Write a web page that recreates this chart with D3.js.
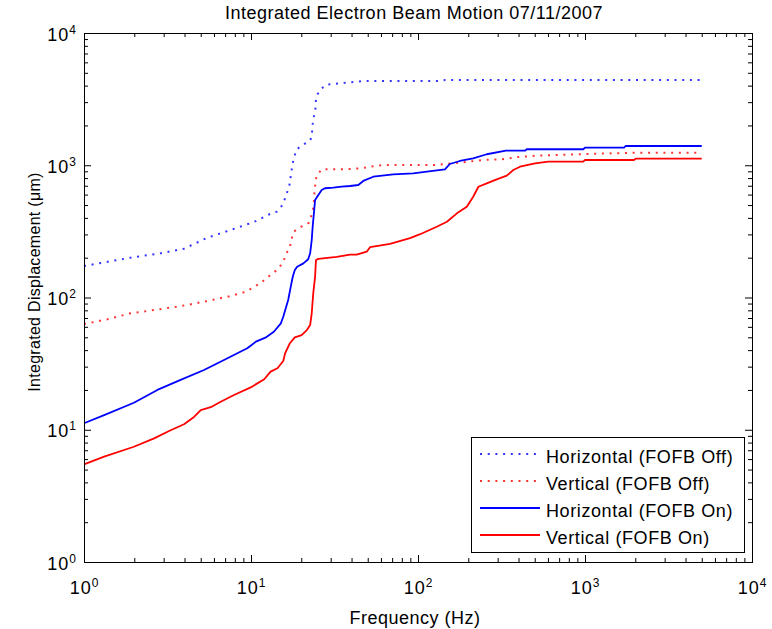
<!DOCTYPE html>
<html>
<head>
<meta charset="utf-8">
<script src="https://cdn.jsdelivr.net/npm/d3@7"></script>
<style>
  html, body { margin: 0; padding: 0; background: #fff; }
  svg { display: block; font-family: "Liberation Sans", Arial, Helvetica, sans-serif; }
</style>
</head>
<body>
<svg id="chart" width="772" height="629"></svg>
<script>
// ---- data ----
const title = "Integrated Electron Beam Motion 07/11/2007";
const xLabel = "Frequency (Hz)";
const yLabel = "Integrated Displacement (\u03bcm)";
const decadeExponents = [0, 1, 2, 3, 4];

const seriesNames = ["Horizontal (FOFB Off)", "Vertical (FOFB Off)", "Horizontal (FOFB On)", "Vertical (FOFB On)"];

const hOffFreq = [1, 1.9, 2.88, 3.97, 5.47, 7.56, 10.4, 12.9, 14.3, 15.6, 16.2, 16.9, 17.4, 17.7, 18.1, 18.8, 20.4, 22.7, 23.2, 23.4, 23.8, 24.3, 24.4, 25.1, 26.2, 28.1, 34.8, 47.5, 139, 145, 5000];
const hOffVal  = [173, 200, 216, 234, 283, 324, 372, 426, 446, 509, 596, 677, 869, 1005, 1149, 1320, 1423, 1545, 1776, 2040, 2330, 2650, 3025, 3460, 3753, 4063, 4170, 4340, 4340, 4413, 4413];

const vOffFreq = [1, 1.38, 1.9, 2.63, 3.59, 4.45, 5.47, 6.09, 7.56, 9.33, 10.4, 11.5, 12.8, 14.3, 15.6, 16.2, 17.1, 17.5, 18.0, 20.0, 22.3, 23.1, 23.7, 23.9, 24.0, 24.3, 24.7, 26.5, 36.5, 45, 55.3, 62, 129.5, 145, 178, 246, 340, 376, 514, 883, 2040, 5000];
const vOffVal  = [63, 68.4, 76, 80.4, 85.2, 89.3, 94, 96.9, 102.6, 110.6, 120, 129.5, 144.7, 161.5, 184.6, 212, 242, 277, 314.5, 343, 368, 426, 486, 562, 639, 730, 834, 931, 931, 948, 987, 1005, 1005, 1023, 1046, 1096, 1115, 1148, 1181, 1210, 1245, 1245];

const hOnFreq = [1, 1.32, 1.99, 2.75, 3.79, 5.23, 6.89, 9.5, 10.7, 12.2, 13.7, 15.1, 15.6, 16.7, 17.3, 17.8, 18.3, 18.9, 20.6, 22.0, 22.6, 23.1, 23.4, 23.8, 24.2, 25.3, 26.5, 27.7, 31.1, 34.9, 39.2, 43.9, 47.0, 54.0, 71.1, 93.7, 113, 145, 155, 178, 214, 258, 336, 437, 448, 977, 1000, 1713, 1750, 5000];
const hOnVal  = [11.2, 12.9, 16.0, 20.0, 23.8, 28.3, 33.7, 41.3, 46.4, 49.7, 55.1, 63.8, 71.6, 95.7, 121, 144, 161.5, 171, 181, 194.5, 216, 272, 343, 433, 546, 596, 650, 670, 677, 688, 697, 709, 761, 819, 854, 869, 894, 932, 1022, 1077, 1129, 1211, 1289, 1289, 1321, 1321, 1358, 1358, 1398, 1398];

const vOnFreq = [1, 1.32, 1.99, 2.63, 3.23, 3.97, 4.56, 5.0, 5.74, 6.59, 7.91, 9.96, 12.0, 13.1, 14.4, 15.6, 16.0, 17.1, 18.3, 20.1, 21.6, 22.6, 23.1, 23.6, 24.2, 24.5, 25.3, 32.6, 39.2, 42.9, 49.3, 51.6, 68.0, 89.6, 103, 129.5, 149, 171, 196, 214, 230, 258, 296, 340, 372, 408, 502, 603, 977, 1000, 1963, 2010, 5000];
const vOnVal  = [5.48, 6.26, 7.44, 8.61, 9.78, 11.0, 12.5, 14.1, 14.8, 16.3, 18.3, 20.9, 24.1, 27.5, 29.2, 33.1, 37.8, 45.1, 50.0, 52.0, 56.7, 61.9, 76.0, 108, 144, 192, 196, 203, 211, 211, 222, 240, 254, 281, 301, 343, 374, 433, 486, 578, 688, 730, 783, 834, 921, 975, 1035, 1064, 1064, 1096, 1096, 1121, 1121];

// ---- layout ----
const W = 772, H = 629;
const L = 84, R = 752, T = 33, B = 562;

const svg = d3.select("#chart");
const x = d3.scaleLog().domain([1, 1e4]).range([L, R]);
const y = d3.scaleLog().domain([1, 1e4]).range([B, T]);

const majors = decadeExponents.map(e => Math.pow(10, e));
const minors = [];
for (let e = 0; e < 4; e++) for (let m = 2; m <= 9; m++) minors.push(m * Math.pow(10, e));

// background
svg.append("rect").attr("width", W).attr("height", H).attr("fill", "#fff");
svg.append("rect").attr("x", L).attr("y", T).attr("width", R - L).attr("height", B - T).attr("fill", "#fff");

// ticks (inward on all four sides)
function addAxis(gen, tr, vals, size) {
  const g = svg.append("g").attr("transform", tr)
    .call(gen.tickValues(vals).tickSize(-size).tickSizeOuter(0).tickFormat(() => ""));
  g.select(".domain").remove();
  g.selectAll(".tick line").attr("stroke", "#000").attr("stroke-width", 1);
  return g;
}
addAxis(d3.axisBottom(x), `translate(0,${B})`, minors, 4);
addAxis(d3.axisTop(x), `translate(0,${T})`, minors, 4);
addAxis(d3.axisLeft(y), `translate(${L},0)`, minors, 4);
addAxis(d3.axisRight(y), `translate(${R},0)`, minors, 4);
const gxb = addAxis(d3.axisBottom(x), `translate(0,${B})`, majors, 7);
addAxis(d3.axisTop(x), `translate(0,${T})`, majors, 7);
const gyl = addAxis(d3.axisLeft(y), `translate(${L},0)`, majors, 7);
addAxis(d3.axisRight(y), `translate(${R},0)`, majors, 7);

// tick labels 10^n
gxb.selectAll(".tick").each(function(d) {
  const t = d3.select(this).select("text")
    .attr("y", 32).attr("dy", null).attr("text-anchor", "middle")
    .attr("fill", "#000").attr("font-size", 18).style("letter-spacing", "1px");
  t.text(null);
  t.append("tspan").text("10");
  t.append("tspan").attr("dy", -7).attr("font-size", 12).text(Math.round(Math.log10(d)));
});
gyl.selectAll(".tick").each(function(d) {
  const t = d3.select(this).select("text")
    .attr("x", -7).attr("dy", null).attr("y", 7).attr("text-anchor", "end")
    .attr("fill", "#000").attr("font-size", 18).style("letter-spacing", "1px");
  t.text(null);
  t.append("tspan").text("10");
  t.append("tspan").attr("dy", -7).attr("font-size", 12).text(Math.round(Math.log10(d)));
});

// series lines
const series = [
  { f: hOffFreq, v: hOffVal, color: "#0000ff", dotted: true },
  { f: vOffFreq, v: vOffVal, color: "#ff0000", dotted: true },
  { f: hOnFreq,  v: hOnVal,  color: "#0000ff", dotted: false },
  { f: vOnFreq,  v: vOnVal,  color: "#ff0000", dotted: false }
];
const line = d3.line().x(d => x(d[0])).y(d => y(d[1]));
series.forEach(s => {
  const pts = s.f.map((f, i) => [f, s.v[i]]);
  const p = svg.append("path").datum(pts).attr("d", line)
    .attr("fill", "none").attr("stroke", s.color);
  if (s.dotted) p.attr("stroke-width", 2).attr("stroke-dasharray", "2,5.7").attr("opacity", 0.8);
  else p.attr("stroke-width", 1.8).attr("stroke-linejoin", "round");
});

// box
svg.append("rect").attr("x", L + 0.5).attr("y", T + 0.5).attr("width", R - L).attr("height", B - T)
  .attr("fill", "none").attr("stroke", "#000").attr("stroke-width", 1);

// title & labels
svg.append("text").attr("x", 414).attr("y", 19).attr("text-anchor", "middle")
  .attr("font-size", 18).style("letter-spacing", "0.5px").text(title);
svg.append("text").attr("x", 415).attr("y", 624).attr("text-anchor", "middle")
  .attr("font-size", 18).style("letter-spacing", "0.5px").text(xLabel);
svg.append("text").attr("transform", "translate(40,282) rotate(-90)").attr("text-anchor", "middle")
  .attr("font-size", 16).style("letter-spacing", "0.3px").text(yLabel);

// legend
const lg = svg.append("g");
lg.append("rect").attr("x", 471.5).attr("y", 437.5).attr("width", 273).attr("height", 115)
  .attr("fill", "#fff").attr("stroke", "#000").attr("stroke-width", 1);
const rowY = [456, 483, 510, 537];
series.forEach((s, i) => {
  const ly = rowY[i] - 2;
  const p = lg.append("line").attr("x1", 480).attr("x2", 540).attr("y1", ly).attr("y2", ly)
    .attr("stroke", s.color);
  if (s.dotted) p.attr("stroke-width", 2).attr("stroke-dasharray", "2,5.7").attr("opacity", 0.8);
  else p.attr("stroke-width", 1.8);
  lg.append("text").attr("x", 546).attr("y", rowY[i] + 6.5).attr("font-size", 18)
    .style("letter-spacing", "0.6px").text(seriesNames[i]);
});
</script>
</body>
</html>
